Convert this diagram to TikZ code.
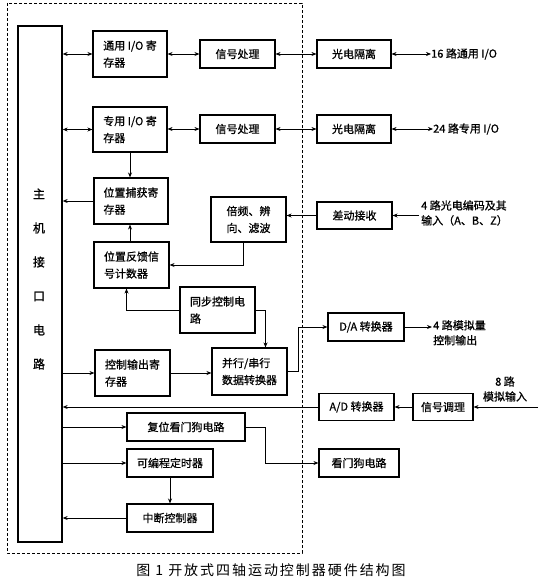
\documentclass[tikz,border=0pt]{standalone}
\usepackage{fontspec}
\setmainfont{Noto Sans CJK SC}
\usetikzlibrary{arrows.meta}
\begin{document}
\begin{tikzpicture}[x=1pt,y=-1pt,
  box/.style={draw,line width=1.1pt,inner sep=2pt,align=left,font=\fontsize{11}{17}\selectfont\addfontfeature{FakeBold=0.8}},
  lbl/.style={inner sep=0pt,align=left,font=\fontsize{11}{15}\selectfont\addfontfeature{FakeBold=0.8}},
  arr/.style={-{Stealth[length=5pt,width=4pt]},line width=0.9pt},
  barr/.style={{Stealth[length=5pt,width=4pt]}-{Stealth[length=5pt,width=4pt]},line width=0.9pt},
  tarr/.style={{Stealth[length=5pt,width=4pt]}-{Stealth[length=5pt,width=4pt]},line width=0.6pt}]
\useasboundingbox (0,0) rectangle (540,580);
% dashed frame
\draw[densely dashed,line width=0.7pt] (7,3) rectangle (302,553);
% host interface column
\node[draw,line width=1.3pt,minimum width=44pt,minimum height=516pt,inner sep=0pt] (main) at (40,284) {};
\node[inner sep=0pt,align=center,font=\fontsize{12}{34}\selectfont\addfontfeature{FakeBold=1}] (mtxt) at (39,279) {主\\机\\接\\口\\电\\路};
% boxes
\node[box,minimum width=74pt,minimum height=46pt] (gio) at (130,54) {通用 I/O 寄\\存器};
\node[box,minimum width=75pt,minimum height=28pt] (sig1) at (237.5,54) {信号处理};
\node[box,minimum width=74pt,minimum height=28pt] (iso1) at (354,54) {光电隔离};
\node[lbl,anchor=west] (t16) at (431,54) {16 路通用 I/O};
\node[box,minimum width=74pt,minimum height=45pt] (dio) at (130,129.5) {专用 I/O 寄\\存器};
\node[box,minimum width=75pt,minimum height=28pt] (sig2) at (237.5,129) {信号处理};
\node[box,minimum width=74pt,minimum height=28pt] (iso2) at (354,129) {光电隔离};
\node[lbl,anchor=west] (t24) at (433,129) {24 路专用 I/O};
\node[box,minimum width=74pt,minimum height=46pt] (cap) at (131,201) {位置捕获寄\\存器};
\node[box,minimum width=75pt,minimum height=45pt] (mul) at (248.5,219.5) {倍频、辨\\向、滤波};
\node[box,minimum width=75pt,minimum height=27pt] (diff) at (354.5,215.5) {差动接收};
\node[lbl,anchor=west] (tenc) at (421,213) {4 路光电编码及其\\输入（A、B、Z）};
\coordinate (encin) at (419,215.5);
\node[box,minimum width=75pt,minimum height=46pt] (fb) at (131.5,265) {位置反馈信\\号计数器};
\node[box,minimum width=75pt,minimum height=46pt] (sync) at (217.5,310) {同步控制电\\路};
\node[box,minimum width=75pt,minimum height=46pt] (ctl) at (132.5,373) {控制输出寄\\存器};
\node[box,minimum width=75pt,minimum height=47pt] (par) at (249.5,371.5) {并行/串行\\数据转换器};
\node[box,minimum width=76pt,minimum height=28pt] (da) at (366,327) {D/A 转换器};
\node[lbl,anchor=north west] (tda) at (433,320) {4 路模拟量\\控制输出};
\coordinate (daout) at (432,327);
\node[box,minimum width=75pt,minimum height=27pt] (ad) at (356.5,407) {A/D 转换器};
\node[box,minimum width=60pt,minimum height=27pt] (sc) at (443,407) {信号调理};
\node[lbl,align=center] (t8) at (505,389) {8 路\\模拟输入};
\coordinate (anin) at (538,407);
\node[box,minimum width=118pt,minimum height=28pt] (rst) at (186,427) {复位看门狗电路};
\node[box,minimum width=80pt,minimum height=28pt] (wd) at (359,463) {看门狗电路};
\node[box,minimum width=86pt,minimum height=28pt] (tmr) at (170,463) {可编程定时器};
\node[box,minimum width=86pt,minimum height=28pt] (irq) at (170,518) {中断控制器};
% connectors
\draw[barr] (main.east |- gio.west) -- (gio.west);
\draw[barr] (gio.east |- sig1.west) -- (sig1.west);
\draw[tarr] (sig1.east) -- (iso1.west |- sig1.east);
\draw[tarr] (iso1.east) -- (t16.west);
\draw[barr] (main.east |- dio.west) -- (dio.west);
\draw[tarr] (dio.east |- sig2.west) -- (sig2.west);
\draw[tarr] (sig2.east) -- (iso2.west);
\draw[tarr] (iso2.east) -- (t24.west);
\draw[arr] (dio.south) -- (dio.south |- cap.north);
\draw[arr] (cap.west) -- (main.east |- cap.west);
\draw[arr] (diff.west) -- (mul.east |- diff.west);
\draw[arr] (encin) -- (diff.east);
\draw[arr] ([xshift=-5pt]mul.south) |- (fb.east);
\draw[arr] (fb.north -| dio.south) -- (cap.south -| dio.south);
\draw[arr] (sync.west) -| ([xshift=-5pt]fb.south);
\draw[arr] (sync.east) -| ([xshift=16pt]par.north);
\draw[arr] (main.east |- ctl.west) -- (ctl.west);
\draw[arr] (ctl.east) -- (par.west |- ctl.east);
\draw[arr] (par.east) -- ++(11,0) |- (da.west);
\draw[arr] (da.east) -- (daout);
\draw[arr] (ad.west) -- (main.east |- ad.west);
\draw[arr] (sc.west) -- (ad.east);
\draw[arr] (anin) -- (sc.east);
\draw[arr] (main.east |- rst.west) -- (rst.west);
\draw[arr] (rst.east) -- ++(20,0) |- (wd.west);
\draw[arr] (main.east |- tmr.west) -- (tmr.west);
\draw[arr] (tmr.south) -- (irq.north);
\draw[arr] (irq.west) -- (main.east |- irq.west);
% caption
\node[inner sep=0pt,font=\fontsize{14}{16}\selectfont\addfontfeature{LetterSpace=14}] (cap1) at (271,570) {图 1 开放式四轴运动控制器硬件结构图};
\end{tikzpicture}
\end{document}
